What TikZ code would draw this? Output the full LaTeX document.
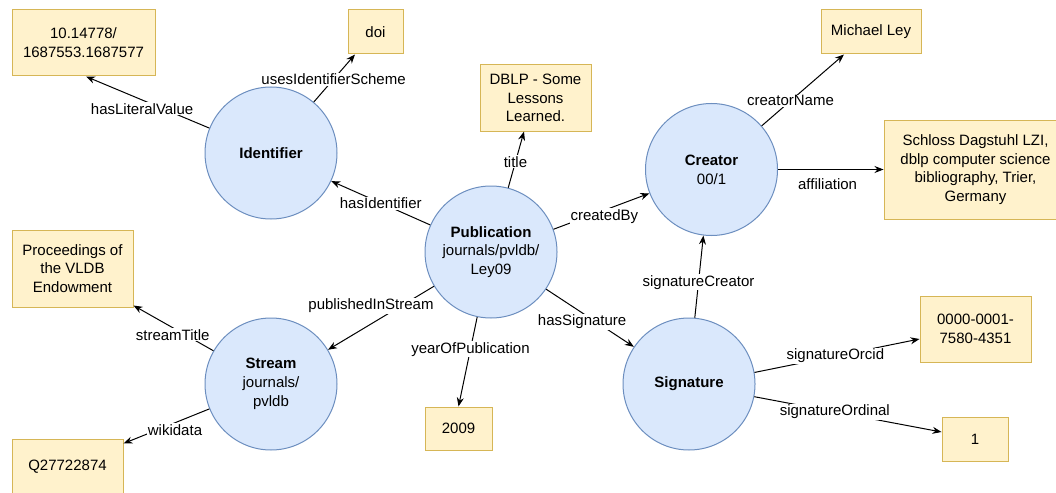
\documentclass[tikz,border=0pt]{standalone}
\usepackage{fontspec}
\setmainfont{Liberation Sans}
\usetikzlibrary{arrows.meta}
\definecolor{cfill}{HTML}{DAE8FC}
\definecolor{cdraw}{HTML}{6C8EBF}
\definecolor{bfill}{HTML}{FFF2CC}
\definecolor{bdraw}{HTML}{D6B656}
\begin{document}
\begin{tikzpicture}[x=1pt,y=-1pt,
 every node/.style={font=\fontsize{15}{18.75}\selectfont},
 ent/.style={circle, draw=cdraw, fill=cfill, line width=1pt, minimum size=132pt, inner sep=0pt, align=center},
 valbox/.style={rectangle, draw=bdraw, fill=bfill, line width=1pt, inner sep=0pt, align=center},
 rel/.style={draw=black, line width=1pt, -{Stealth[length=9pt,width=7pt]}},
 lbl/.style={fill=white, inner sep=1pt}
]
\useasboundingbox (0,0) rectangle (1056,492);
\clip (0,0) rectangle (1056,492);

% entities
\node[ent] (ident) at (271,153) {\textbf{Identifier}};
\node[ent] (pub) at (491,252) {\textbf{Publication}\\journals/pvldb/\\Ley09};
\node[ent] (creator) at (711.5,169.5) {\textbf{Creator}\\00/1};
\node[ent] (stream) at (271,384) {\textbf{Stream}\\journals/\\pvldb};
\node[ent] (sig) at (689,384) {\textbf{Signature}};

% literal values
\node[valbox, minimum width=143pt, minimum height=66pt] (litv) at (83.5,43) {10.14778/\\1687553.1687577};
\node[valbox, minimum width=55pt, minimum height=44pt] (doi) at (375.5,32) {doi};
\node[valbox, minimum width=111pt, minimum height=66pt] (dblp) at (535.5,98) {DBLP - Some\\Lessons\\Learned.};
\node[valbox, minimum width=100pt, minimum height=44pt] (ley) at (871,32) {Michael Ley};
\node[valbox, minimum width=183pt, minimum height=99pt] (aff) at (975.5,169.5) {Schloss Dagstuhl LZI,\\dblp computer science\\bibliography, Trier,\\Germany};
\node[valbox, minimum width=121pt, minimum height=77pt] (proc) at (72.5,268.5) {Proceedings of\\the VLDB\\Endowment};
\node[valbox, minimum width=111pt, minimum height=56pt] (qid) at (67.5,467) {Q27722874};
\node[valbox, minimum width=67pt, minimum height=43pt] (year) at (458.5,428.5) {2009};
\node[valbox, minimum width=111pt, minimum height=66pt] (orcid) at (975.5,329) {0000-0001-\\7580-4351};
\node[valbox, minimum width=66pt, minimum height=44pt] (ord) at (975,439) {1};

% relations
\draw[rel] (ident.158) -- ([xshift=2.5pt]litv.south) node[lbl, pos=.545, yshift=-9pt] {hasLiteralValue};
\draw[rel] (ident.50) -- ([xshift=-20.5pt]doi.south) node[lbl, pos=.48] {usesIdentifierScheme};
\draw[rel] (pub.156) -- (ident.335) node[lbl, pos=.5] {hasIdentifier};
\draw[rel] (pub.75) -- ([xshift=-11.5pt]dblp.south) node[lbl, pos=.46] {title};
\draw[rel] (pub.20) -- (creator.201) node[lbl, pos=.53, yshift=-6pt] {createdBy};
\draw[rel] (creator.41) -- ([xshift=-27pt]ley.south) node[lbl, pos=.35] {creatorName};
\draw[rel] (creator.east) -- (aff.west) node[lbl, pos=.47, yshift=-14.5pt] {affiliation};
\draw[rel] (sig.85) -- (creator.263) node[lbl, pos=.43] {signatureCreator};
\draw[rel] (pub.326) -- (sig.146) node[lbl, pos=.41, yshift=-9pt] {hasSignature};
\draw[rel] (pub.211) -- (stream.31) node[lbl, pos=.5, xshift=-10pt, yshift=12pt] {publishedInStream};
\draw[rel] (pub.258) -- (year.north) node[lbl, pos=.36] {yearOfPublication};
\draw[rel] (stream.150) -- ([yshift=2pt]proc.south east) node[lbl, pos=.51, yshift=-7pt] {streamTitle};
\draw[rel] (stream.202) -- ([yshift=-5pt]qid.north east) node[lbl, pos=.4, yshift=-7pt] {wikidata};
\draw[rel] (sig.10) -- ([yshift=-10pt]orcid.west) node[lbl, pos=.49] {signatureOrcid};
\draw[rel] (sig.349) -- ([yshift=7pt]ord.west) node[lbl, pos=.43] {signatureOrdinal};
\end{tikzpicture}
\end{document}
